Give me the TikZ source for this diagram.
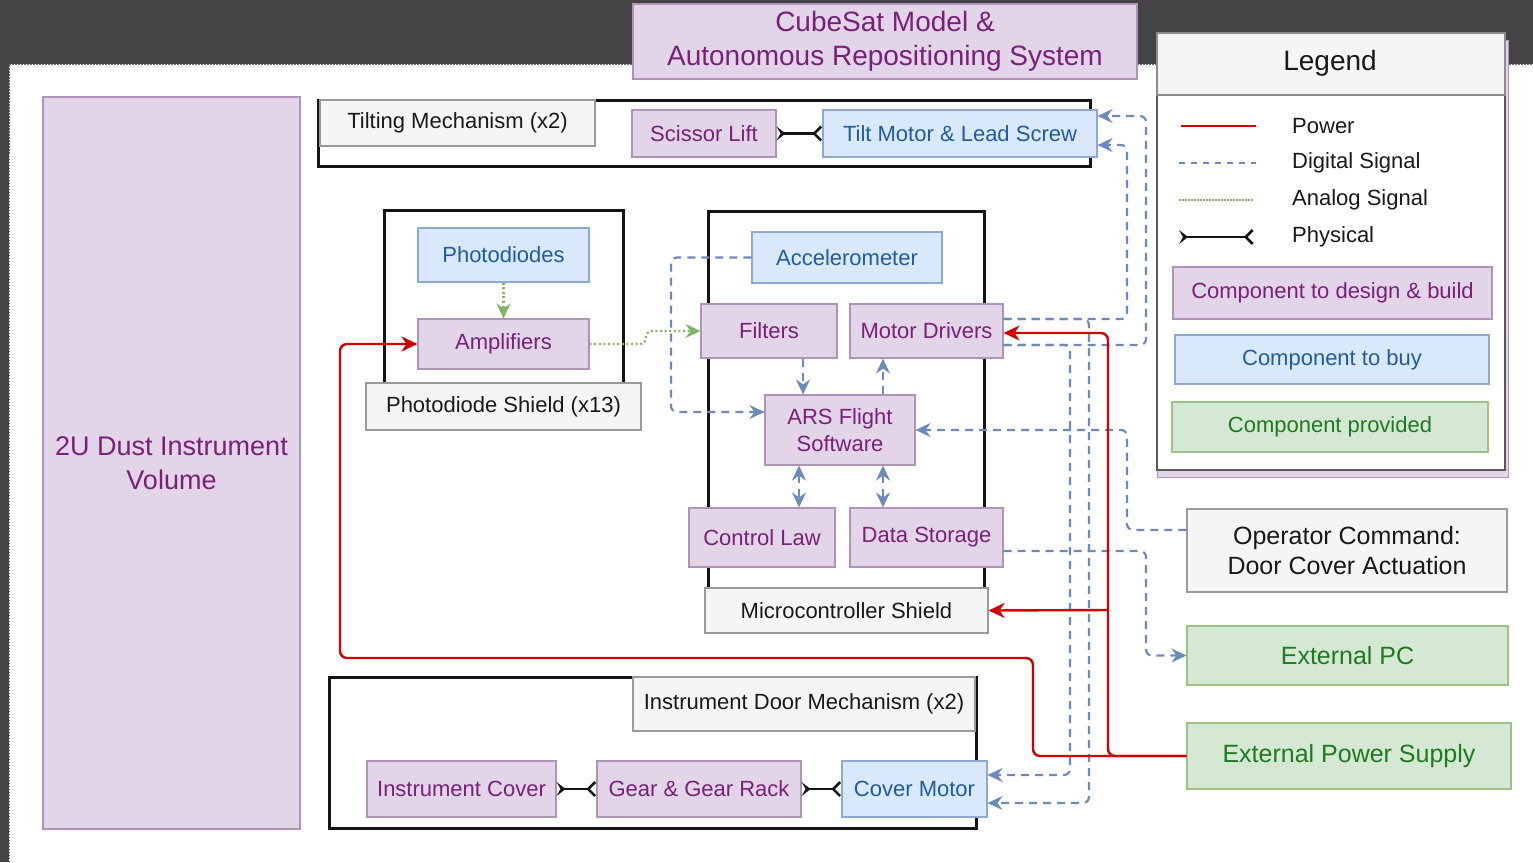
\documentclass[tikz,border=0pt]{standalone}
\usepackage{fontspec}
\setmainfont{Liberation Sans}
\usetikzlibrary{arrows.meta,calc}
\definecolor{bgdark}{HTML}{444444}
\definecolor{pfill}{HTML}{E1D5E7}
\definecolor{pdraw}{HTML}{AE94B8}
\definecolor{ptext}{HTML}{7A1F7A}
\definecolor{bfill}{HTML}{DAE8FC}
\definecolor{bdraw}{HTML}{8DA8D2}
\definecolor{btext}{HTML}{1F5CA0}
\definecolor{gfill}{HTML}{D5E8D4}
\definecolor{gdraw}{HTML}{9DC288}
\definecolor{gtext}{HTML}{1E7A1E}
\definecolor{grfill}{HTML}{F5F5F5}
\definecolor{grdraw}{HTML}{9A9A9A}
\definecolor{digc}{HTML}{6D8BBA}
\definecolor{powc}{HTML}{D00000}
\definecolor{anac}{HTML}{82B366}
\begin{document}
\begin{tikzpicture}[x=1pt,y=-1pt,
  bx/.style={rectangle, inner sep=0pt, line width=1.1pt, align=center, font=\fontsize{22}{27}\selectfont},
  pbox/.style={bx, fill=pfill, draw=pdraw, text=ptext},
  bbox/.style={bx, fill=bfill, draw=bdraw, text=btext},
  gbox/.style={bx, fill=gfill, draw=gdraw, text=gtext},
  lbox/.style={bx, fill=grfill, draw=grdraw, text=black!90},
  frame/.style={draw=black!92, line width=3pt},
  dig/.style={draw=digc, line width=2.2pt, dash pattern=on 8pt off 6pt, rounded corners=6pt, -{Stealth[length=15pt,width=14pt,inset=5pt]}},
  digtwo/.style={draw=digc, line width=2.2pt, dash pattern=on 8pt off 6pt, {Stealth[length=15pt,width=14pt,inset=5pt]}-{Stealth[length=15pt,width=14pt,inset=5pt]}},
  pow/.style={draw=powc, line width=2.4pt, rounded corners=7pt, -{Stealth[length=16pt,width=15pt,inset=5pt]}},
  ana/.style={draw=anac, line width=2.2pt, dash pattern=on 2pt off 2.6pt, rounded corners=6pt, -{Stealth[length=15pt,width=14pt,inset=5pt]}},
  phys/.style={draw=black!92, line width=2.6pt, arrows={Stealth[reversed,length=9pt,width=14pt,inset=4pt]-Straight Barb[reversed,length=7pt,width=14pt]}},
  lgtext/.style={anchor=west, inner sep=0pt, font=\fontsize{22}{27}\selectfont, text=black!90}
]
\useasboundingbox (0,0) rectangle (1533,862);
% background
\fill[bgdark] (0,0) rectangle (1533,862);
\fill[white] (9,64) rectangle (1533,862);
\draw[black!60, line width=1pt, dash pattern=on 1.5pt off 1.5pt] (9,862) -- (9,64) -- (1533,64);

% title
\node[pbox, minimum width=504pt, minimum height=75pt, font=\fontsize{28}{34}\selectfont] (title) at (885,41.5) {CubeSat Model \&\\Autonomous Repositioning System};

% legend
\draw[fill=pfill, draw=pdraw, line width=1pt] (1157,40) rectangle (1508,477);
\draw[fill=white, draw=black!65, line width=1.8pt] (1157,33) rectangle (1505,470);
\draw[fill=grfill, draw=black!45, line width=1.2pt] (1157,33) rectangle (1505,95);
\node[font=\fontsize{28}{34}\selectfont, text=black!90] (legtitle) at (1330,63) {Legend};
\draw[draw=powc, line width=2pt] (1181,126) -- (1256,126);
\draw[draw=digc, line width=2pt, dash pattern=on 6pt off 6pt] (1179,163) -- (1256,163);
\draw[draw=anac, line width=2pt, dash pattern=on 1.5pt off 1.5pt] (1179,200) -- (1253,200);
\draw[phys] (1179,237) -- (1254,237);
\node[lgtext] (lg1) at (1292,126) {Power};
\node[lgtext] (lg2) at (1292,163) {Digital Signal};
\node[lgtext] (lg3) at (1292,200) {Analog Signal};
\node[lgtext] (lg4) at (1292,237) {Physical};
\node[pbox, minimum width=319pt, minimum height=52pt] (lgp) at (1332.5,293) {Component to design \& build};
\node[bbox, minimum width=314pt, minimum height=49pt] (lgb) at (1332,359.5) {Component to buy};
\node[gbox, minimum width=316pt, minimum height=50pt] (lgg) at (1330,427) {Component provided};

% dust instrument volume
\node[pbox, minimum width=257pt, minimum height=732pt, font=\fontsize{27}{34}\selectfont] (dust) at (171.5,463) {2U Dust Instrument\\Volume};

% frames
\draw[frame] (318,100) rectangle (1090,166);
\draw[frame] (384,210) rectangle (623,395);
\draw[frame] (708,211) rectangle (984,600);
\draw[frame] (329,677) rectangle (976,828);

% tilting mechanism
\node[lbox, minimum width=275pt, minimum height=46pt] (tiltlabel) at (457.5,123) {Tilting Mechanism (x2)};
\node[pbox, minimum width=144pt, minimum height=47pt] (scissor) at (704,133.5) {Scissor Lift};
\node[bbox, minimum width=274pt, minimum height=47pt] (tilt) at (960,133.5) {Tilt Motor \& Lead Screw};

% photodiode shield
\node[lbox, minimum width=275pt, minimum height=47pt] (pdlabel) at (503.5,406.5) {Photodiode Shield (x13)};
\node[bbox, minimum width=171pt, minimum height=54pt] (pd) at (503.5,255) {Photodiodes};
\node[pbox, minimum width=171pt, minimum height=50pt] (amp) at (503.5,344) {Amplifiers};

% microcontroller shield
\node[lbox, minimum width=283pt, minimum height=45pt] (mclabel) at (846.5,610.5) {Microcontroller Shield};
\node[bbox, minimum width=190pt, minimum height=51pt] (acc) at (847,257.5) {Accelerometer};
\node[pbox, minimum width=136pt, minimum height=54pt] (filt) at (769,331) {Filters};
\node[pbox, minimum width=153pt, minimum height=54pt] (md) at (926.5,331) {Motor Drivers};
\node[pbox, minimum width=150pt, minimum height=70pt] (ars) at (840,430) {ARS Flight\\Software};
\node[pbox, minimum width=146pt, minimum height=59pt] (cl) at (762,537.5) {Control Law};
\node[pbox, minimum width=153pt, minimum height=59pt] (ds) at (926.5,537.5) {Data Storage};

% door mechanism
\node[lbox, minimum width=342pt, minimum height=54pt] (doorlabel) at (804,704) {Instrument Door Mechanism (x2)};
\node[pbox, minimum width=189pt, minimum height=56pt] (cover) at (461.5,789) {Instrument Cover};
\node[pbox, minimum width=204pt, minimum height=56pt] (gear) at (699,789) {Gear \& Gear Rack};
\node[bbox, minimum width=145pt, minimum height=56pt] (cm) at (914.5,789) {Cover Motor};

% external
\node[lbox, minimum width=320pt, minimum height=83pt, font=\fontsize{25}{30}\selectfont] (op) at (1347,550.5) {Operator Command:\\Door Cover Actuation};
\node[gbox, minimum width=321pt, minimum height=59pt, font=\fontsize{25}{30}\selectfont] (pc) at (1347.5,655.5) {External PC};
\node[gbox, minimum width=324pt, minimum height=66pt, font=\fontsize{25}{30}\selectfont] (eps) at (1349,756) {External Power Supply};

% digital signals
\draw[dig] (acc.west) -- (671,257.5) -- (671,412) -- (ars.west |- 0,412);
\draw[dig] (filt.south -| 803,0) -- (ars.north -| 803,0);
\draw[dig] (ars.north -| 883,0) -- (md.south -| 883,0);
\draw[digtwo] (ars.south -| 799,0) -- (cl.north -| 799,0);
\draw[digtwo] (ars.south -| 883,0) -- (ds.north -| 883,0);
\draw[dig] (md.east |- 0,319) -- (1127,319) -- (1127,145) -- (tilt.east |- 0,145);
\draw[dig] (md.east |- 0,345) -- (1146,345) -- (1146,116) -- (tilt.east |- 0,116);
\draw[dig] (md.east |- 0,319) -- (1089,319) -- (1089,803) -- (cm.east |- 0,803);
\draw[dig] (md.east |- 0,345) -- (1070,345) -- (1070,775) -- (cm.east |- 0,775);
\draw[dig] (op.west |- 0,530) -- (1127,530) -- (1127,430) -- (ars.east);
\draw[dig] (ds.east |- 0,551) -- (1146,551) -- (1146,655.5) -- (pc.west);

% power
\coordinate (pj) at (1108,610);
\draw[pow] (eps.west) -- (1108,756) -- (1108,333) -- (md.east |- 0,333);
\draw[pow] (pj) -- (mclabel.east);
\draw[pow] (eps.west) -- (1033,756) -- (1033,658) -- (340,658) -- (340,344) -- (amp.west);

% analog
\draw[ana] (pd.south) -- (amp.north);
\draw[ana] (amp.east) -- (646,344) -- (646,331) -- (filt.west);

% physical
\draw[phys] (scissor.east) -- (tilt.west);
\draw[phys] (cover.east) -- (gear.west);
\draw[phys] (gear.east) -- (cm.west);
\end{tikzpicture}
\end{document}
